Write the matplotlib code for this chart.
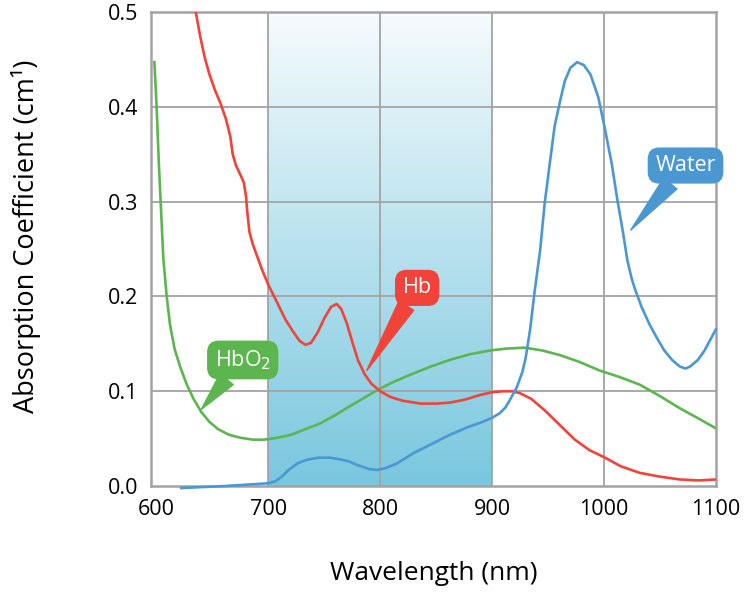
import numpy as np
import matplotlib
matplotlib.use("Agg")
import matplotlib.pyplot as plt
from matplotlib.colors import LinearSegmentedColormap

plt.rcParams['font.family'] = ['Open Sans', 'DejaVu Sans']

# Hb (deoxyhemoglobin)
hb_nm = [635, 639, 643, 647, 652, 657, 662, 666, 668, 671, 675, 678, 680, 681, 683, 686, 690,
         695, 700, 708, 715, 722, 728, 733, 738, 744, 750, 756, 761, 765, 770, 775, 780, 786,
         792, 800, 809, 820, 836, 850, 862, 875, 889, 900, 910, 918, 925, 935, 947, 960, 974,
         987, 1001, 1015, 1032, 1050, 1068, 1085, 1100]
hb_val = [0.5, 0.474, 0.452, 0.435, 0.418, 0.404, 0.387, 0.368, 0.350, 0.338, 0.328, 0.320,
          0.305, 0.290, 0.268, 0.255, 0.242, 0.226, 0.212, 0.193, 0.176, 0.163, 0.153, 0.149,
          0.151, 0.162, 0.177, 0.189, 0.192, 0.187, 0.172, 0.152, 0.133, 0.118, 0.108, 0.100,
          0.094, 0.090, 0.087, 0.087, 0.088, 0.091, 0.096, 0.099, 0.100, 0.100, 0.098, 0.092,
          0.080, 0.065, 0.049, 0.038, 0.030, 0.021, 0.014, 0.010, 0.007, 0.006, 0.007]

# HbO2 (oxyhemoglobin)
hbo2_nm = [598, 600, 602, 604, 606, 609, 612, 616, 621, 627, 633, 640, 647, 655, 665, 675,
           686, 696, 708, 720, 733, 746, 760, 771, 784, 797, 812, 828, 845, 862, 880, 898,
           913, 929, 945, 961, 978, 996, 1014, 1032, 1050, 1068, 1085, 1100]
hbo2_val = [0.447, 0.40, 0.34, 0.29, 0.24, 0.20, 0.17, 0.145, 0.126, 0.107, 0.092, 0.078,
            0.068, 0.060, 0.054, 0.051, 0.049, 0.049, 0.051, 0.054, 0.060, 0.066, 0.075, 0.083,
            0.092, 0.101, 0.110, 0.118, 0.126, 0.133, 0.139, 0.143, 0.145, 0.146, 0.143, 0.138,
            0.131, 0.122, 0.115, 0.107, 0.095, 0.082, 0.071, 0.061]

# Water
water_nm = [622, 660, 700, 706, 712, 718, 726, 735, 745, 755, 765, 772, 780, 790, 797, 805,
            815, 830, 847, 862, 878, 890, 900, 907, 912, 916, 922, 927, 930, 934, 938, 943, 947,
            952, 956, 961, 965, 970, 976, 982, 988, 995, 1001, 1007, 1012, 1017, 1021, 1025,
            1028, 1034, 1041, 1048, 1054, 1061, 1068, 1073, 1077, 1084, 1090, 1095, 1100]
water_val = [-0.002, 0.0, 0.003, 0.005, 0.010, 0.017, 0.024, 0.028, 0.030, 0.030, 0.028,
             0.026, 0.022, 0.018, 0.017, 0.019, 0.024, 0.035, 0.045, 0.054, 0.062, 0.067, 0.072,
             0.077, 0.083, 0.091, 0.104, 0.120, 0.135, 0.165, 0.205, 0.249, 0.298, 0.344, 0.380,
             0.407, 0.427, 0.441, 0.447, 0.444, 0.434, 0.410, 0.376, 0.340, 0.302, 0.268, 0.238,
             0.218, 0.207, 0.188, 0.170, 0.155, 0.143, 0.133, 0.126, 0.124, 0.126, 0.133, 0.143,
             0.154, 0.165]

x_ticks = [600, 700, 800, 900, 1000, 1100]
y_ticks = [0.0, 0.1, 0.2, 0.3, 0.4, 0.5]
window = (700, 900)

red = '#f2433b'
green = '#5cb54f'
blue = '#4b97d2'
grid_c = '#a3a3a3'

fig = plt.figure(figsize=(7.44, 5.95), dpi=100)
ax = fig.add_axes([0.203, 0.183, 0.759, 0.797])
ax.set_xlim(595, 1100)
ax.set_ylim(0, 0.5)

# optical window gradient
cmap = LinearSegmentedColormap.from_list('win', ['#79c7de', '#f6fbfd'])
grad = np.linspace(0, 1, 256).reshape(-1, 1)
ax.imshow(grad, extent=[window[0], window[1], 0, 0.5], origin='lower', cmap=cmap,
          aspect='auto', zorder=0.2)

for v in [700, 800, 900, 1000]:
    ax.axvline(v, color=grid_c, lw=1.3, zorder=0.5)
for v in [0.1, 0.2, 0.3, 0.4]:
    ax.axhline(v, color=grid_c, lw=1.3, zorder=0.5)

ax.plot(hbo2_nm, hbo2_val, color=green, lw=1.9, zorder=3, solid_joinstyle='round')
ax.plot(hb_nm, hb_val, color=red, lw=1.9, zorder=3, solid_joinstyle='round')
ax.plot(water_nm, water_val, color=blue, lw=1.9, zorder=3, clip_on=False,
        solid_joinstyle='round')

for s in ax.spines.values():
    s.set_color(grid_c)
    s.set_linewidth(1.8)
ax.tick_params(length=0, labelsize=15.5, pad=9)
ax.set_xticks(x_ticks)
ax.set_yticks(y_ticks)
ax.set_yticklabels(['%.1f' % t for t in y_ticks])
ax.set_xlabel('Wavelength (nm)', fontsize=19, labelpad=30)
ax.set_ylabel('Absorption Coefficient (cm¹)', fontsize=19.5)
ax.yaxis.set_label_coords(-0.195, 0.527)


def callout(text, xy, xytext, color):
    ax.annotate(text, xy=xy, xytext=xytext, fontsize=15.5, color='white',
                ha='center', va='center', zorder=5,
                bbox=dict(boxstyle='round,pad=0.32,rounding_size=0.5', fc=color, ec=color),
                arrowprops=dict(arrowstyle='wedge,tail_width=0.8,shrink_factor=0.5',
                                fc=color, ec=color, shrinkA=0, shrinkB=0))


callout('Water', (1024, 0.27), (1073, 0.338), blue)
callout('Hb', (788, 0.122), (833, 0.209), red)
callout('HbO$_2$', (640, 0.081), (677, 0.133), green)

fig.savefig('out.png', dpi=100)
